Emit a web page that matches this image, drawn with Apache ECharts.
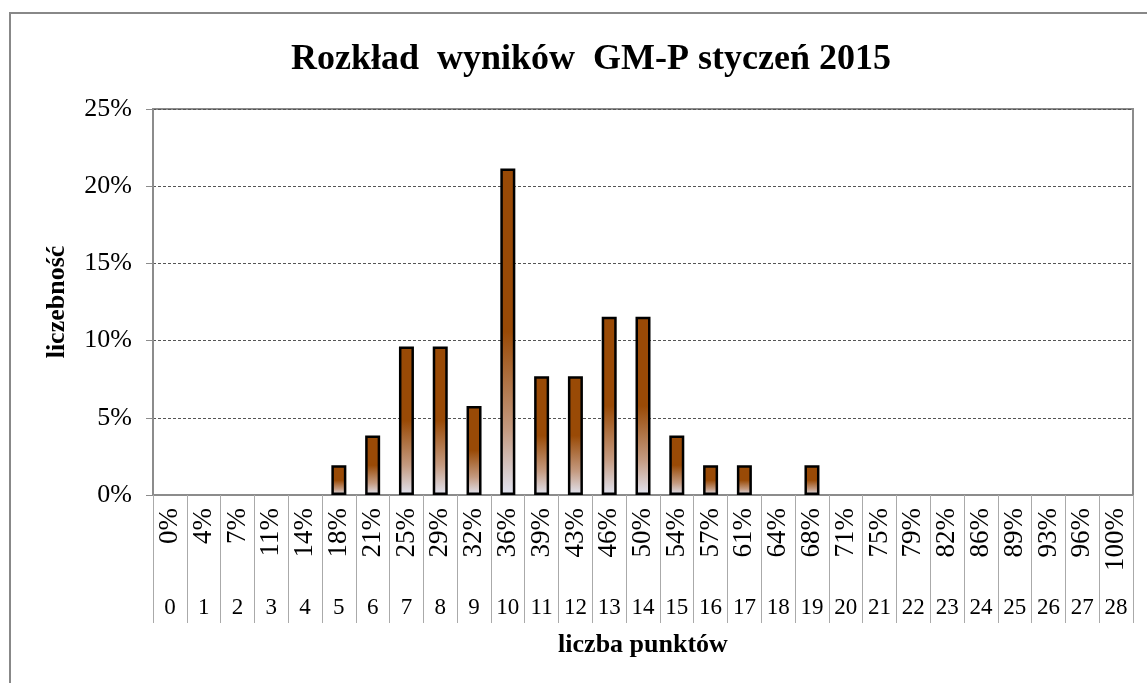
<!DOCTYPE html>
<html>
<head>
<meta charset="utf-8">
<script src="https://cdn.jsdelivr.net/npm/echarts@6/dist/echarts.min.js"></script>
<style>
  html, body { margin: 0; padding: 0; background: #fff; }
  #main { width: 1147px; height: 683px; }
</style>
</head>
<body>
<div id="main"></div>
<script>
// liczba punktów (0-28)
var punkty = ["0", "1", "2", "3", "4", "5", "6", "7", "8", "9", "10", "11", "12", "13", "14",
  "15", "16", "17", "18", "19", "20", "21", "22", "23", "24", "25", "26", "27", "28"];
// procent maksymalnej liczby punktów
var procenty = ["0%", "4%", "7%", "11%", "14%", "18%", "21%", "25%", "29%", "32%", "36%", "39%",
  "43%", "46%", "50%", "54%", "57%", "61%", "64%", "68%", "71%", "75%", "79%", "82%", "86%",
  "89%", "93%", "96%", "100%"];
// liczebność w %
var liczebnosc = [0, 0, 0, 0, 0, 1.92, 3.85, 9.62, 9.62, 5.77, 21.15, 7.69, 7.69, 11.54, 11.54,
  3.85, 1.92, 1.92, 0, 1.92, 0, 0, 0, 0, 0, 0, 0, 0, 0];

var font = "'Liberation Serif', 'Times New Roman', serif";

// puste słupki (0) bez obramowania
var barData = liczebnosc.map(function (v) {
  return v === 0 ? { value: 0, itemStyle: { borderWidth: 0 } } : v;
});

var chart = echarts.init(document.getElementById("main"));
chart.setOption({
  animation: false,
  backgroundColor: "#fff",
  title: {
    text: "Rozkład  wyników  GM-P styczeń 2015",
    left: 586,
    textAlign: "center",
    top: 37,
    textStyle: { fontFamily: font, fontSize: 36, fontWeight: "bold", color: "#000" }
  },
  graphic: [
    {
      type: "rect",
      shape: { x: 10, y: 13, width: 1160, height: 700 },
      style: { fill: "none", stroke: "#888", lineWidth: 2 },
      silent: true
    }
  ],
  grid: {
    left: 153,
    right: 14,
    top: 109,
    bottom: 188,
    show: true,
    borderColor: "#8c8c8c",
    borderWidth: 2
  },
  xAxis: [
    {
      type: "category",
      data: procenty,
      position: "bottom",
      axisLine: { show: true, lineStyle: { color: "#8c8c8c", width: 2 } },
      axisTick: { show: true, interval: 0, length: 128, lineStyle: { color: "#aaa", width: 1 } },
      axisLabel: {
        interval: 0,
        rotate: 90,
        margin: 13,
        fontFamily: font,
        fontSize: 27,
        color: "#000"
      },
      splitLine: { show: false }
    },
    {
      type: "category",
      data: punkty,
      position: "bottom",
      axisLine: { show: false },
      axisTick: { show: false },
      axisLabel: {
        interval: 0,
        margin: 101,
        fontFamily: font,
        fontSize: 23,
        color: "#000"
      },
      name: "liczba punktów",
      nameLocation: "middle",
      nameGap: 137,
      nameTextStyle: { fontFamily: font, fontSize: 26, fontWeight: "bold", color: "#000" },
      splitLine: { show: false }
    }
  ],
  yAxis: {
    type: "value",
    min: 0,
    max: 25,
    interval: 5,
    name: "liczebność",
    nameLocation: "middle",
    nameGap: 83,
    nameTextStyle: { fontFamily: font, fontSize: 26, fontWeight: "bold", color: "#000" },
    axisLine: { show: true, lineStyle: { color: "#8c8c8c", width: 2 } },
    axisTick: { show: true, length: 7, lineStyle: { color: "#8c8c8c" } },
    axisLabel: {
      formatter: "{value}%",
      margin: 21,
      fontFamily: font,
      fontSize: 26,
      color: "#000"
    },
    splitLine: {
      show: true,
      lineStyle: { color: "#555", type: [3, 2], width: 1.2 }
    }
  },
  series: [
    {
      name: "liczebność",
      type: "bar",
      xAxisIndex: 0,
      data: barData,
      barWidth: 15,
      itemStyle: {
        borderColor: "#000",
        borderWidth: 2.5,
        color: new echarts.graphic.LinearGradient(0, 0, 0, 1, [
          { offset: 0, color: "#994a06" },
          { offset: 0.5, color: "#994a06" },
          { offset: 0.8, color: "#c49a80" },
          { offset: 1, color: "#e2e5f2" }
        ])
      }
    }
  ]
});
</script>
</body>
</html>
